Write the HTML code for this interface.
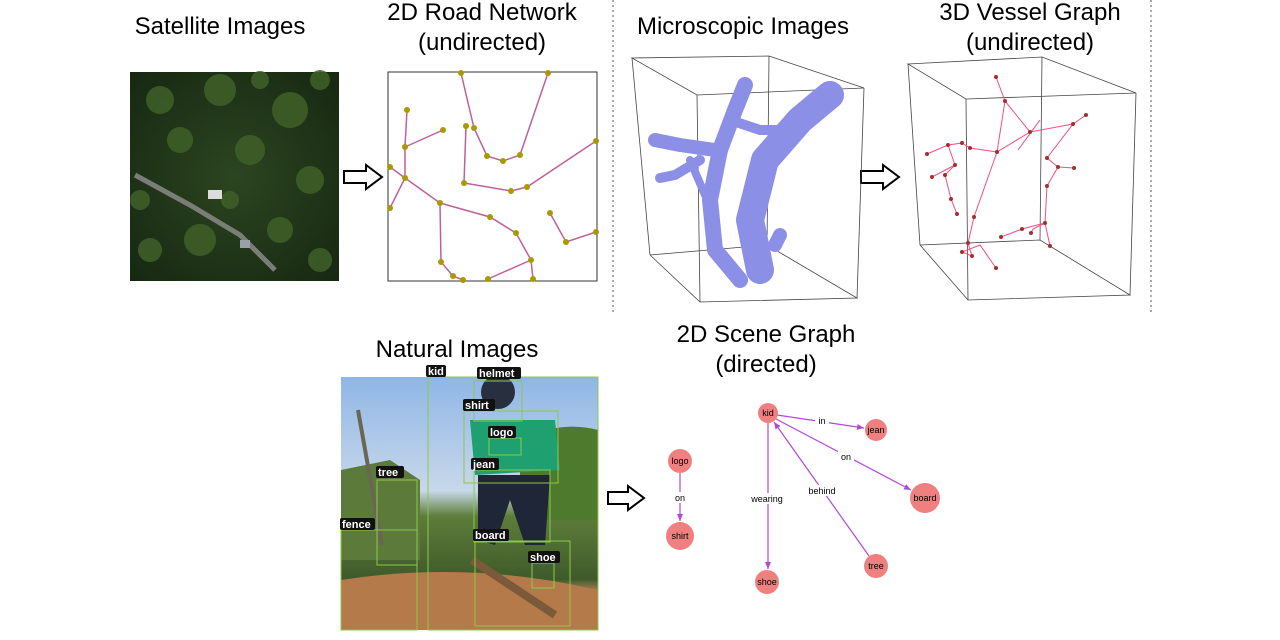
<!DOCTYPE html>
<html><head><meta charset="utf-8"><style>
html,body{margin:0;padding:0;background:#fff;}
svg{display:block;font-family:"Liberation Sans",Arial,sans-serif;}
</style></head><body>
<svg width="1280" height="640" viewBox="0 0 1280 640" xmlns="http://www.w3.org/2000/svg">
<defs>
<marker id="ah" markerWidth="8" markerHeight="8" refX="7" refY="4" orient="auto" markerUnits="userSpaceOnUse"><path d="M0,1 L7,4 L0,7 Z" fill="#b048d8"/></marker>
<linearGradient id="sky" x1="0" y1="0" x2="0" y2="1"><stop offset="0" stop-color="#8fb6e6"/><stop offset="0.45" stop-color="#c8d8ea"/><stop offset="0.55" stop-color="#5d7d3a"/><stop offset="0.8" stop-color="#3f5a2a"/><stop offset="0.85" stop-color="#b0845a"/><stop offset="1" stop-color="#c9925e"/></linearGradient>
<radialGradient id="sat" cx="0.5" cy="0.5" r="0.7"><stop offset="0" stop-color="#2c4520"/><stop offset="1" stop-color="#162812"/></radialGradient>
</defs>

<g font-size="24" fill="#000" text-anchor="middle">
<text x="220" y="34">Satellite Images</text>
<text x="482" y="20">2D Road Network</text>
<text x="482" y="50">(undirected)</text>
<text x="743" y="34">Microscopic Images</text>
<text x="1030" y="20">3D Vessel Graph</text>
<text x="1030" y="50">(undirected)</text>
<text x="457" y="357">Natural Images</text>
<text x="766" y="342">2D Scene Graph</text>
<text x="766" y="372">(directed)</text>
</g>

<line x1="613" y1="0" x2="613" y2="315" stroke="#555" stroke-dasharray="2,3"/>
<line x1="1151" y1="0" x2="1151" y2="315" stroke="#555" stroke-dasharray="2,3"/>

<rect x="130" y="72" width="209" height="209" fill="url(#sat)"/>
<g fill="#3f6028" opacity="0.85">
<circle cx="160" cy="100" r="14"/><circle cx="220" cy="90" r="16"/><circle cx="290" cy="110" r="18"/><circle cx="250" cy="150" r="15"/><circle cx="180" cy="140" r="13"/><circle cx="310" cy="180" r="14"/><circle cx="200" cy="240" r="16"/><circle cx="150" cy="250" r="12"/><circle cx="280" cy="230" r="13"/>
<circle cx="320" cy="80" r="10"/><circle cx="140" cy="200" r="10"/><circle cx="230" cy="200" r="9"/><circle cx="320" cy="260" r="12"/><circle cx="260" cy="80" r="9"/>
</g>
<path d="M135,175 L190,205 L240,235 L275,270" stroke="#7a7d78" stroke-width="5" fill="none"/>
<rect x="208" y="190" width="14" height="9" fill="#dcdcdc"/>
<rect x="240" y="240" width="10" height="8" fill="#9aa0a8"/>

<g fill="#fff" stroke="#000" stroke-width="2">
<path d="M344,171 L366,171 L366,165 L382,177 L366,189 L366,183 L344,183 Z"/>
<path d="M861,171 L883,171 L883,165 L899,177 L883,189 L883,183 L861,183 Z"/>
<path d="M608,492 L628,492 L628,486 L644,498 L628,510 L628,504 L608,504 Z"/>
</g>

<rect x="388" y="72" width="209" height="209" fill="#fff" stroke="#333" stroke-width="1"/>
<g stroke="#c0609a" stroke-width="1.5" fill="none">
<polyline points="461,73 474,128 487,156 503,161 520,155 548,73"/>
<polyline points="443,130 405,147 407,110"/>
<polyline points="405,147 405,178 390,208"/>
<polyline points="390,167 405,178 440,203 441,262 453,276 463,280"/>
<polyline points="440,203 490,217 516,233 531,260 533,279"/>
<polyline points="531,260 488,279"/>
<polyline points="550,213 566,242 596,232"/>
<polyline points="466,126 464,183 511,191 527,187 596,141"/>
</g>
<g fill="#a89a00">
<circle cx="461" cy="73" r="3"/><circle cx="548" cy="73" r="3"/><circle cx="474" cy="128" r="3"/><circle cx="487" cy="156" r="3"/><circle cx="503" cy="161" r="3"/><circle cx="520" cy="155" r="3"/>
<circle cx="443" cy="130" r="3"/><circle cx="405" cy="147" r="3"/><circle cx="407" cy="110" r="3"/><circle cx="405" cy="178" r="3"/><circle cx="390" cy="208" r="3"/><circle cx="390" cy="167" r="3"/>
<circle cx="440" cy="203" r="3"/><circle cx="441" cy="262" r="3"/><circle cx="453" cy="276" r="3"/><circle cx="463" cy="280" r="3"/><circle cx="490" cy="217" r="3"/><circle cx="516" cy="233" r="3"/><circle cx="531" cy="260" r="3"/><circle cx="533" cy="279" r="3"/><circle cx="488" cy="279" r="3"/>
<circle cx="550" cy="213" r="3"/><circle cx="566" cy="242" r="3"/><circle cx="596" cy="232" r="3"/><circle cx="466" cy="126" r="3"/><circle cx="464" cy="183" r="3"/><circle cx="511" cy="191" r="3"/><circle cx="527" cy="187" r="3"/><circle cx="596" cy="141" r="3"/>
</g>

<g stroke="#444" stroke-width="0.8" fill="none">
<polygon points="632,58 769,56 864,88 697,95"/>
<line x1="697" y1="95" x2="700" y2="302"/>
<line x1="864" y1="88" x2="857" y2="298"/>
<line x1="632" y1="58" x2="650" y2="255"/>
<line x1="769" y1="56" x2="767" y2="245"/>
<polyline points="650,255 700,302 857,298 767,245 650,255"/>
</g>
<g stroke="#8c8fe6" stroke-linecap="round" stroke-linejoin="round" fill="none">
<path d="M760,270 L750,220 L765,160 L800,120 L830,95" stroke-width="28"/>
<path d="M740,280 L715,250 L710,200 L720,150 L735,110 L745,85" stroke-width="16"/>
<path d="M715,150 L680,145 L655,140" stroke-width="14"/>
<path d="M700,160 L675,175 L660,178" stroke-width="10"/>
<path d="M730,120 L760,130 L800,130" stroke-width="10"/>
<path d="M780,235 L775,245" stroke-width="14"/>
<path d="M690,160 L705,195" stroke-width="8"/>
</g>

<g stroke="#444" stroke-width="0.8" fill="none">
<polygon points="908,64 1042,57 1136,93 966,99"/>
<line x1="966" y1="99" x2="968" y2="300"/>
<line x1="1136" y1="93" x2="1130" y2="295"/>
<line x1="908" y1="64" x2="920" y2="245"/>
<line x1="1042" y1="57" x2="1040" y2="240"/>
<polyline points="920,245 968,300 1130,295 1040,240 920,245"/>
</g>
<g stroke="#f05080" stroke-width="1" fill="none">
<polyline points="996,77 1005,101 997,152 974,217 968,243 972,256"/>
<polyline points="1005,101 1030,132 1073,124 1086,115"/>
<polyline points="927,154 948,145 962,143 970,148 997,152"/>
<polyline points="948,145 955,165 945,175 951,199 957,214"/>
<polyline points="955,165 932,177"/>
<polyline points="1073,124 1047,158 1058,167 1047,186 1045,223 1033,229 1031,233"/>
<polyline points="1058,167 1074,168"/>
<polyline points="1045,223 1050,246"/>
<polyline points="1045,223 1022,229 1001,237"/>
<polyline points="997,152 1030,132"/>
<polyline points="972,256 962,252 980,245 996,268"/>
<polyline points="1040,120 1018,150"/>
</g>
<g fill="#a03030">
<circle cx="996" cy="77" r="2"/><circle cx="1005" cy="101" r="2"/><circle cx="997" cy="152" r="2"/><circle cx="974" cy="217" r="2"/><circle cx="968" cy="243" r="2"/><circle cx="972" cy="256" r="2"/>
<circle cx="1030" cy="132" r="2"/><circle cx="1073" cy="124" r="2"/><circle cx="1086" cy="115" r="2"/><circle cx="927" cy="154" r="2"/><circle cx="948" cy="145" r="2"/><circle cx="962" cy="143" r="2"/><circle cx="970" cy="148" r="2"/>
<circle cx="955" cy="165" r="2"/><circle cx="932" cy="177" r="2"/><circle cx="945" cy="175" r="2"/><circle cx="951" cy="199" r="2"/><circle cx="957" cy="214" r="2"/>
<circle cx="1047" cy="158" r="2"/><circle cx="1058" cy="167" r="2"/><circle cx="1047" cy="186" r="2"/><circle cx="1045" cy="223" r="2"/><circle cx="1031" cy="233" r="2"/><circle cx="1074" cy="168" r="2"/><circle cx="1050" cy="246" r="2"/><circle cx="1022" cy="229" r="2"/><circle cx="1001" cy="237" r="2"/><circle cx="962" cy="252" r="2"/><circle cx="996" cy="268" r="2"/>
</g>

<rect x="341" y="377" width="257" height="253" fill="url(#sky)"/>
<path d="M520,440 Q560,420 598,430 L598,520 L520,520 Z" fill="#4e7a2e"/>
<path d="M341,470 L390,460 L420,480 L420,560 L341,560 Z" fill="#5c7a3a"/>
<path d="M358,410 L382,545" stroke="#6b6654" stroke-width="4"/>
<path d="M341,580 Q470,560 598,590 L598,630 L341,630 Z" fill="#b57a4a"/>
<path d="M470,420 L555,420 L560,470 L475,475 Z" fill="#1fa070"/>
<circle cx="498" cy="392" r="17" fill="#283040"/>
<path d="M478,475 L550,475 L545,545 L525,545 L510,500 L495,545 L478,540 Z" fill="#1f2638"/>
<path d="M472,560 L555,615" stroke="#7a5a3a" stroke-width="8"/>
<g fill="none" stroke="#8cc84a" stroke-width="1">
<rect x="428" y="377" width="170" height="253"/><rect x="474" y="381" width="48" height="40"/><rect x="464" y="411" width="94" height="72"/><rect x="489" y="438" width="32" height="17"/><rect x="474" y="470" width="76" height="72"/><rect x="377" y="480" width="40" height="85"/><rect x="341" y="530" width="76" height="100"/><rect x="475" y="541" width="95" height="85"/><rect x="532" y="563" width="22" height="25"/>
</g>
<g font-size="11" font-weight="bold" fill="#fff">
<g fill="#111"><rect x="426" y="365" width="20" height="12" rx="2"/><rect x="477" y="367" width="44" height="12" rx="2"/><rect x="463" y="399" width="32" height="12" rx="2"/><rect x="488" y="426" width="28" height="12" rx="2"/><rect x="471" y="458" width="28" height="12" rx="2"/><rect x="376" y="466" width="28" height="12" rx="2"/><rect x="340" y="518" width="35" height="12" rx="2"/><rect x="473" y="529" width="36" height="12" rx="2"/><rect x="528" y="551" width="32" height="12" rx="2"/></g>
<text x="428" y="375">kid</text><text x="479" y="377">helmet</text><text x="465" y="409">shirt</text><text x="490" y="436">logo</text><text x="473" y="468">jean</text><text x="378" y="476">tree</text><text x="342" y="528">fence</text><text x="475" y="539">board</text><text x="530" y="561">shoe</text>
</g>

<g stroke="#b048d8" stroke-width="1.2" fill="none" marker-end="url(#ah)">
<line x1="777" y1="415" x2="864" y2="428"/>
<line x1="776" y1="419" x2="911" y2="490"/>
<line x1="768" y1="423" x2="768" y2="569"/>
<line x1="869" y1="556" x2="774" y2="422"/>
<line x1="680" y1="473" x2="680" y2="521"/>
</g>
<g fill="#f08080">
<circle cx="768" cy="413" r="10"/><circle cx="876" cy="430" r="11"/><circle cx="925" cy="498" r="15"/><circle cx="680" cy="461" r="12"/><circle cx="680" cy="536" r="14"/><circle cx="767" cy="582" r="12"/><circle cx="876" cy="566" r="12"/>
</g>
<g font-size="9" fill="#000" text-anchor="middle">
<text x="768" y="416">kid</text><text x="876" y="433">jean</text><text x="925" y="501">board</text><text x="680" y="464">logo</text><text x="680" y="539">shirt</text><text x="767" y="585">shoe</text><text x="876" y="569">tree</text>
</g>
<g font-size="9" fill="#000" text-anchor="middle">
<rect x="815" y="415" width="14" height="11" fill="#fff"/><text x="822" y="424">in</text>
<rect x="838" y="451" width="16" height="11" fill="#fff"/><text x="846" y="460">on</text>
<rect x="748" y="493" width="38" height="11" fill="#fff"/><text x="767" y="502">wearing</text>
<rect x="805" y="485" width="34" height="11" fill="#fff"/><text x="822" y="494">behind</text>
<rect x="672" y="492" width="16" height="11" fill="#fff"/><text x="680" y="501">on</text>
</g>
</svg>
</body></html>
